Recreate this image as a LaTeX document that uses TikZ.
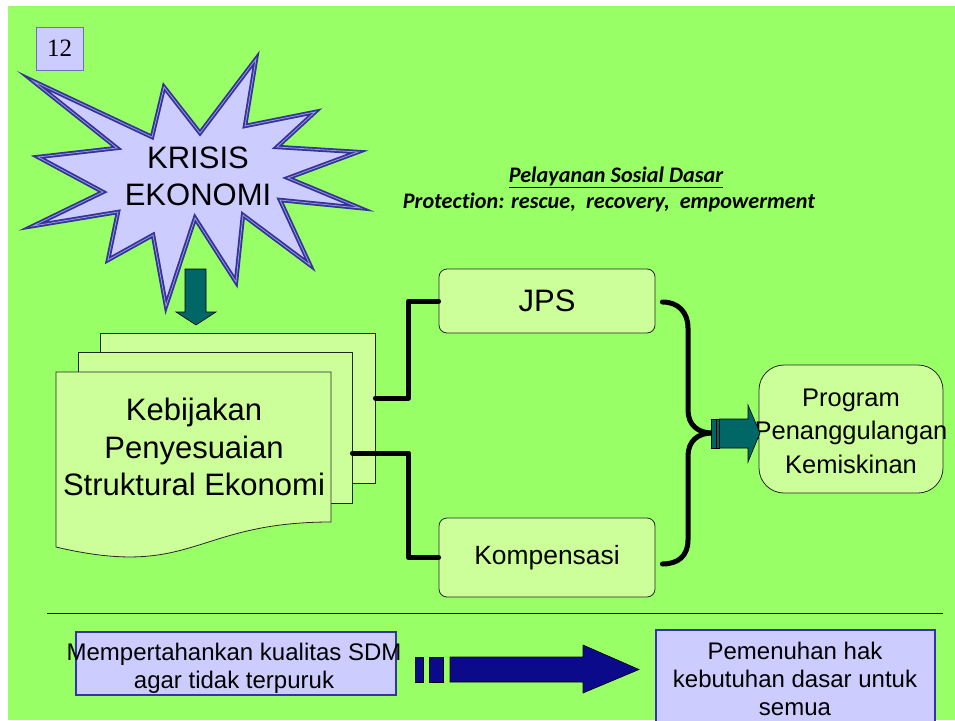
\documentclass[tikz,border=0pt]{standalone}
\usepackage{fontspec}
\setmainfont{Liberation Sans}
\newfontfamily\seriff{Liberation Serif}
\newfontfamily\titlef[Ligatures={NoCommon}]{Carlito}
\usetikzlibrary{calc}
\definecolor{bg}{HTML}{99FF66}
\definecolor{lgreen}{HTML}{CCFF99}
\definecolor{lav}{HTML}{CCCCFF}
\definecolor{starblue}{HTML}{333399}
\definecolor{starmid}{HTML}{9999DD}
\definecolor{teal2}{HTML}{006666}
\definecolor{navy2}{HTML}{0A0A8A}
\definecolor{boxblue}{HTML}{3333AA}
\begin{document}
\begin{tikzpicture}[x=1pt,y=-1pt,
  page/.style={draw=black!85, line width=0.8pt, fill=lgreen, inner sep=0pt},
  rbox/.style={draw=black!85, line width=0.8pt, fill=lgreen, rounded corners=8pt, inner sep=0pt},
  lbox/.style={draw=boxblue, line width=1.2pt, fill=lav, inner sep=0pt},
  link/.style={line width=5pt, line cap=round, line join=round},
  tealarrow/.style={draw=black, line width=0.6pt, fill=teal2},
  navyarrow/.style={draw=black, line width=0.6pt, fill=navy2},
  bigtxt/.style={align=center, font=\fontsize{31}{37}\selectfont},
  midtxt/.style={align=center, font=\fontsize{24}{28}\selectfont},
  titletxt/.style={font=\titlef\bfseries\itshape\fontsize{22.2}{24}\selectfont, inner sep=0pt}
]
\useasboundingbox (0,0) rectangle (955,720);
\fill[bg] (8,6) rectangle (955,720);

% number box
\node[lbox, draw=starblue!70, line width=0.8pt, minimum width=47pt, minimum height=43pt] (num) at (59.5,48.5) {\seriff\fontsize{25}{25}\selectfont 12};

% star
\draw[fill=lav, draw=starblue, double=starmid, double distance=0.8pt, line width=1.8pt, line join=miter]
 (33,81) -- (152,137) -- (164,87) -- (200,133) -- (256,59) -- (245,126) -- (315,112)
 -- (277,147) -- (358,152) -- (288,178) -- (360,208) -- (280,200) -- (310,265)
 -- (243,215) -- (236,282) -- (195,218) -- (166,306) -- (153,235) -- (108,260)
 -- (118,212) -- (33,226) -- (103,192) -- (38,157) -- (117,148) -- cycle;
\node[bigtxt] (krisis) at (198,176) {KRISIS\\EKONOMI};

% down arrow
\draw[tealarrow] (185,269) -- (206,269) -- (206,312) -- (216,312) -- (196,325) -- (176,312) -- (185,312) -- cycle;

% document stack
\node[page, minimum width=275pt, minimum height=150pt] (p3) at (237.5,408) {};
\node[page, minimum width=274pt, minimum height=151pt] (p2) at (215,427.5) {};
\draw[page] (56,372) -- (331,372) -- (331,522) .. controls (193.5,522) and (193.5,579.5) .. (56,547) -- cycle;
\node[align=center, font=\fontsize{31}{37.5}\selectfont] (keb) at (194,447) {Kebijakan\\Penyesuaian\\Struktural Ekonomi};

% JPS and Kompensasi
\node[rbox, minimum width=216pt, minimum height=64pt, font=\fontsize{31}{31}\selectfont] (jps) at (547,301) {JPS};
\node[rbox, minimum width=216pt, minimum height=79pt, font=\fontsize{26.4}{30}\selectfont] (komp) at (547,557.5) {Kompensasi};

% connectors from documents
\draw[link] ([yshift=10pt]p3.east) -- ++(33,0) |- (jps.west);
\draw[link] ([yshift=-25.5pt]p2.east) -- ++(56,0) |- (komp.west);

% brace
\coordinate (join) at (712,433);
\draw[link] ([xshift=7pt,yshift=-1pt]jps.east) .. controls (678,302) and (688,312) .. (688,328)
  -- (688,410) .. controls (688,425) and (698,433) .. (join);
\draw[link] (join) .. controls (698,433) and (688,441) .. (688,456)
  -- (688,540) .. controls (688,556) and (678,564) .. ([xshift=7pt,yshift=-6.5pt]komp.east);

% program box
\node[rbox, rounded corners=25pt, minimum width=184pt, minimum height=128pt] (prog) at (851,429) {};
\node[align=center, font=\fontsize{25.5}{33.5}\selectfont] (progt) at (851,431) {Program\\Penanggulangan\\Kemiskinan};

% teal striped arrow
\draw[tealarrow] (711.5,419) rectangle (716,448);
\draw[tealarrow] (716.5,419) rectangle (719.5,448);
\draw[tealarrow] (719.5,419) -- (748,419) -- (748,405) -- (760,433) -- (748,462) -- (748,448) -- (719.5,448) -- cycle;

% titles
\node[titletxt] (t1) at (616,177) {\underline{Pelayanan Sosial Dasar}};
\node[titletxt] (t2) at (609,202) {Protection: rescue,\ \ recovery,\ \ empowerment};

% separator
\draw[line width=1pt] (47,613) -- (943,613);

% bottom
\node[lbox, minimum width=320pt, minimum height=63pt] (sdm) at (236,663.5) {};
\node[midtxt] (sdmt) at (234,668) {Mempertahankan kualitas SDM\\agar tidak terpuruk};
\draw[navyarrow] (415,657) rectangle (423,682);
\draw[navyarrow] (429,657) rectangle (443,682);
\draw[navyarrow] (450,657) -- (583,657) -- (583,645) -- (639,669.5) -- (583,693) -- (583,682) -- (450,682) -- cycle;
\node[lbox, minimum width=279pt, minimum height=100pt] (hak) at (795.5,680) {};
\node[midtxt] (hakt) at (795,679) {Pemenuhan hak\\kebutuhan dasar untuk\\semua};
\end{tikzpicture}
\end{document}
